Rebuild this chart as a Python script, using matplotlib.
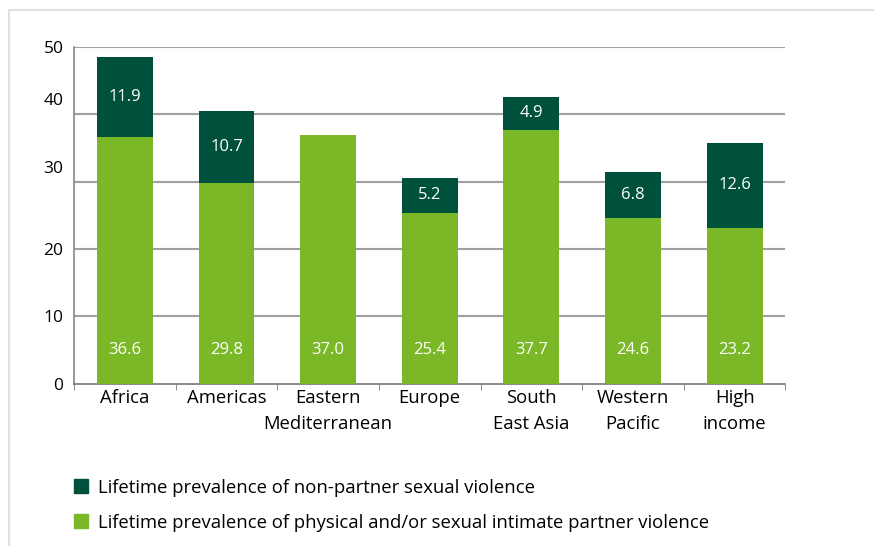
import matplotlib.pyplot as plt
import numpy as np
from matplotlib.lines import Line2D

regions = ['Africa', 'Americas', 'Eastern\nMediterranean', 'Europe',
           'South\nEast Asia', 'Western\nPacific', 'High\nincome']
ipv = [36.6, 29.8, 37.0, 25.4, 37.7, 24.6, 23.2]
non_partner = [11.9, 10.7, 0.0, 5.2, 4.9, 6.8, 12.6]  # no figure for Eastern Mediterranean

y_ticks = [0, 10, 20, 30, 40, 50]
y_label_pos = [0, 10, 20, 32.2, 42.3, 50]  # the labels sit a bit off the grid in the original

dark = '#00513b'
light = '#7ab827'
grid_col = '#a0a0a0'

plt.rcParams['font.family'] = ['Open Sans', 'DejaVu Sans']

fig = plt.figure(figsize=(8.74, 5.46), dpi=100)
ax = fig.add_axes([0.0847, 0.297, 0.814, 0.617])

x = np.arange(len(regions))
ax.bar(x, ipv, width=0.55, color=light, zorder=3)
ax.bar(x, non_partner, width=0.55, bottom=ipv, color=dark, zorder=3)

for i in range(len(regions)):
    ax.text(x[i], 5, '%.1f' % ipv[i], ha='center', va='center',
            color='white', fontsize=12, zorder=4)
    if non_partner[i] > 0:
        ax.text(x[i], ipv[i] + non_partner[i] / 2, '%.1f' % non_partner[i],
                ha='center', va='center', color='white', fontsize=12, zorder=4)

ax.set_xlim(-0.5, len(regions) - 0.5)
ax.set_ylim(0, 50)
for t in y_ticks[1:]:
    ax.axhline(t, color=grid_col, lw=1.5, zorder=1)

ax.set_yticks(y_label_pos)
ax.set_yticklabels([str(t) for t in y_ticks], fontsize=12.5)
ax.tick_params(axis='y', length=0, pad=7.5)

ax.set_xticks(x)
ax.set_xticklabels(regions, fontsize=13.3, linespacing=1.55)
ax.set_xticks(np.arange(len(regions) + 1) - 0.5, minor=True)
ax.tick_params(axis='x', which='major', length=0, pad=4)
ax.tick_params(axis='x', which='minor', length=4, color='#777777', direction='out')

for s in ['top', 'right']:
    ax.spines[s].set_visible(False)
ax.spines['left'].set_color('#888888')
ax.spines['bottom'].set_color('#777777')
ax.spines['left'].set_linewidth(1.2)
ax.spines['bottom'].set_linewidth(1.2)

# legend
handles = [plt.Rectangle((0, 0), 1, 1, color=dark),
           plt.Rectangle((0, 0), 1, 1, color=light)]
labels = ['Lifetime prevalence of non-partner sexual violence',
          'Lifetime prevalence of physical and/or sexual intimate partner violence']
fig.legend(handles, labels, loc='upper left', bbox_to_anchor=(0.076, 0.137),
           frameon=False, fontsize=13.3, handlelength=0.75, handleheight=0.75,
           handletextpad=0.55, labelspacing=0.92, borderaxespad=0)

# light page frame on left and top
fig.add_artist(Line2D([0.0098, 0.0098], [0, 0.982], color='#e0e0e0', lw=1.5,
                      transform=fig.transFigure))
fig.add_artist(Line2D([0.0098, 1], [0.982, 0.982], color='#e0e0e0', lw=1.5,
                      transform=fig.transFigure))

fig.savefig('out.png', dpi=100)
